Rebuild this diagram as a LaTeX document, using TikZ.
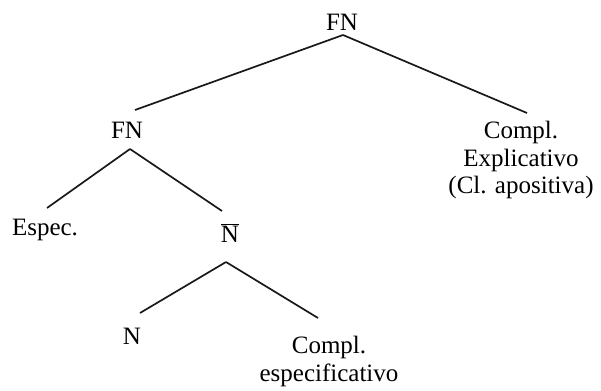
\documentclass[tikz,border=0pt]{standalone}
\usepackage{fontspec}
\setmainfont{Liberation Serif}
\usetikzlibrary{calc}
\begin{document}
\begin{tikzpicture}[x=1pt,y=-1pt,
  lbl/.style={inner sep=0pt,anchor=base,align=center,font=\fontsize{25}{27.5}\selectfont},
  edge/.style={line width=1.7pt,black!90}]
\useasboundingbox (0,0) rectangle (601,390);
\node[lbl] (fn) at (342,31) {FN};
\node[lbl] (fn1) at (127,139) {FN};
\node[lbl,anchor=north] (ce) at (521,121) {Compl.\\Explicativo\\(Cl. apositiva)};
\node[lbl] (esp) at (45,235) {Espec.};
\node[lbl] (nbar) at (230,242) {$\overline{\mbox{N}}$};
\node[lbl] (n) at (132,344) {N};
\node[lbl,anchor=north] (cs) at (329,336) {Compl.\\especificativo};
\draw[edge] ($(fn.base)+(1,4)$) -- ($(fn1.base)+(8,-29)$);
\draw[edge] ($(fn.base)+(1,4)$) -- ($(ce.north)+(6,-8)$);
\draw[edge] ($(fn1.base)+(3,10)$) -- ($(esp.base)+(2,-27)$);
\draw[edge] ($(fn1.base)+(3,10)$) -- ($(nbar.base)+(-8,-31)$);
\draw[edge] ($(nbar.base)+(-4,20)$) -- ($(n.base)+(8,-31)$);
\draw[edge] ($(nbar.base)+(-4,20)$) -- ($(cs.north)+(-11,-18)$);
\end{tikzpicture}
\end{document}
